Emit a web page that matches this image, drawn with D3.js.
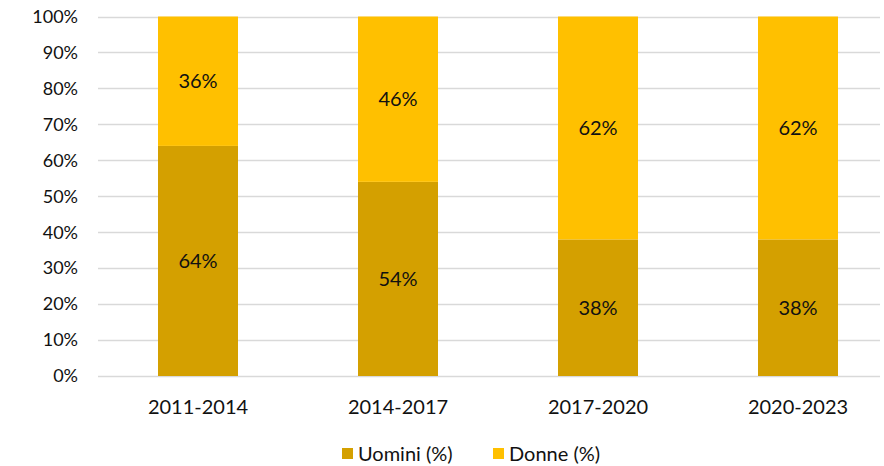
<!DOCTYPE html>
<html>
<head>
<meta charset="utf-8">
<script src="https://cdn.jsdelivr.net/npm/d3@7"></script>
<style>
  body { margin: 0; background: #fff; }
  text { font-family: "Lato", "Open Sans", sans-serif; fill: #111; }
</style>
</head>
<body>
<div id="chart"></div>
<script>
var periods = ["2011-2014", "2014-2017", "2017-2020", "2020-2023"];
var uomini = [64, 54, 38, 38];
var donne = [36, 46, 62, 62];
var yTicks = [0, 10, 20, 30, 40, 50, 60, 70, 80, 90, 100];
var seriesNames = ["Uomini (%)", "Donne (%)"];
var colors = ["#D4A000", "#FFC000"];

var width = 884, height = 466;
var svg = d3.select('#chart').append('svg')
  .attr('width', width)
  .attr('height', height);

var x = d3.scaleBand().domain(periods).range([98, 898]).paddingInner(0.6).paddingOuter(0.3);
var y = d3.scaleLinear().domain([0, 100]).range([376, 16.5]);

// gridlines
svg.append('g').selectAll('line')
  .data(yTicks)
  .enter().append('line')
  .attr('x1', 98).attr('x2', 880)
  .attr('y1', function(d){ return Math.round(y(d)) + 0.5; })
  .attr('y2', function(d){ return Math.round(y(d)) + 0.5; })
  .style('stroke', '#d9d9d9')
  .style('stroke-width', 1.3);

// y tick labels
svg.append('g').selectAll('text')
  .data(yTicks)
  .enter().append('text')
  .attr('x', 78)
  .attr('y', function(d){ return y(d); })
  .attr('dy', '0.35em')
  .attr('text-anchor', 'end')
  .style('font-size', '18px')
  .text(function(d){ return d + '%'; });

var bw = 80;
var stacked = periods.map(function(p, i){ return { p: p, u: uomini[i], d: donne[i] }; });

var bars = svg.append('g').selectAll('g')
  .data(stacked)
  .enter().append('g')
  .attr('transform', function(d){ return 'translate(' + (x(d.p) + x.bandwidth()/2 - bw/2) + ',0)'; });

bars.append('rect')
  .attr('y', function(d){ return y(d.u); })
  .attr('width', bw)
  .attr('height', function(d){ return y(0) - y(d.u); })
  .style('fill', colors[0]);

bars.append('rect')
  .attr('y', function(d){ return y(d.u + d.d); })
  .attr('width', bw)
  .attr('height', function(d){ return y(d.u) - y(d.u + d.d); })
  .style('fill', colors[1]);

bars.append('text')
  .attr('x', bw/2)
  .attr('y', function(d){ return y(d.u/2); })
  .attr('dy', '0.35em')
  .attr('text-anchor', 'middle')
  .style('font-size', '20px')
  .text(function(d){ return d.u + '%'; });

bars.append('text')
  .attr('x', bw/2)
  .attr('y', function(d){ return y(d.u + d.d/2); })
  .attr('dy', '0.35em')
  .attr('text-anchor', 'middle')
  .style('font-size', '20px')
  .text(function(d){ return d.d + '%'; });

// x labels
svg.append('g').selectAll('text')
  .data(periods)
  .enter().append('text')
  .attr('x', function(d){ return x(d) + x.bandwidth()/2; })
  .attr('y', 407)
  .attr('dy', '0.35em')
  .attr('text-anchor', 'middle')
  .style('font-size', '20px')
  .text(function(d){ return d; });

// legend
var legendX = [342, 493];
var legend = svg.append('g').selectAll('g')
  .data(seriesNames)
  .enter().append('g')
  .attr('transform', function(d, i){ return 'translate(' + legendX[i] + ',448)'; });

legend.append('rect')
  .attr('width', 11).attr('height', 11)
  .style('fill', function(d, i){ return colors[i]; });

legend.append('text')
  .attr('x', 16)
  .attr('y', 6)
  .attr('dy', '0.35em')
  .style('font-size', '20px')
  .text(function(d){ return d; });
</script>
</body>
</html>
